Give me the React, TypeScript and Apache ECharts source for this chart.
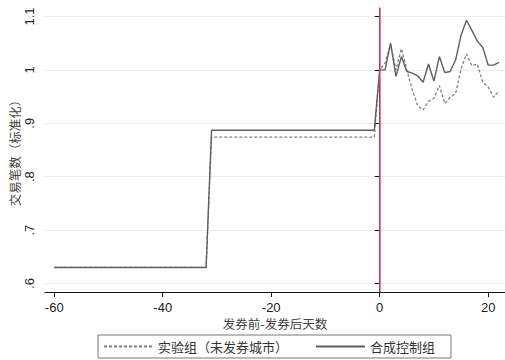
import React, { useEffect, useRef } from "react";
import * as echarts from "echarts";

const days = [-60, -32, -31, -1, 0, 1, 2, 3, 4, 5, 6, 7, 8, 9, 10, 11, 12, 13, 14, 15, 16, 17, 18, 19, 20, 21, 22];
const treated = [0.63, 0.63, 0.874, 0.874, 1.0, 1.013, 1.048, 1.0, 1.04, 1.0, 0.963, 0.933, 0.925, 0.941, 0.947, 0.971, 0.937, 0.949, 0.956, 1.002, 1.03, 1.008, 1.011, 0.977, 0.968, 0.949, 0.96];
const synthetic = [0.63, 0.63, 0.887, 0.887, 1.0, 1.0, 1.05, 0.988, 1.025, 0.997, 0.994, 0.989, 0.977, 1.011, 0.979, 1.025, 0.995, 0.997, 1.019, 1.065, 1.093, 1.074, 1.054, 1.042, 1.009, 1.009, 1.014];
const xTicks = [-60, -40, -20, 0, 20];
const yTicks = [0.6, 0.7, 0.8, 0.9, 1.0, 1.1];
const seriesNames = ["实验组（未发券城市）", "合成控制组"];
const xTitle = "发券前-发券后天数";
const yTitle = "交易笔数（标准化）";

const numFont = "'Liberation Sans', Arial, sans-serif";
const cjkFont = "'Noto Sans CJK SC', sans-serif";

function fmtY(v: number): string {
  const s = (Math.round(v * 10) / 10).toString();
  return s.startsWith("0.") ? s.slice(1) : s;
}

export default function App() {
  const ref = useRef<HTMLDivElement>(null);
  useEffect(() => {
    if (!ref.current) return;
    const chart = echarts.init(ref.current, null, { renderer: "svg" });
    chart.setOption({
      animation: false,
      backgroundColor: "#ffffff",
      grid: { left: 45, right: 0, top: 8, bottom: 68 },
      legend: {
        left: 98,
        top: 335,
        data: seriesNames,
        itemWidth: 49,
        itemHeight: 10,
        itemGap: 27,
        padding: [5, 16, 5, 5],
        borderColor: "#777",
        borderWidth: 1,
        itemStyle: { opacity: 0 },
        textStyle: { fontFamily: cjkFont, fontSize: 13, color: "#333" },
      },
      xAxis: {
        type: "value",
        min: -61.7,
        max: 23.1,
        name: xTitle,
        nameLocation: "middle",
        nameGap: 25,
        nameMoveOverlap: false,
        nameTextStyle: { fontFamily: cjkFont, fontSize: 12.5, color: "#444" },
        axisLine: { show: true, onZero: false, lineStyle: { color: "#111", width: 1 } },
        axisTick: { show: true, length: 5, customValues: xTicks, lineStyle: { color: "#111" } },
        axisLabel: { customValues: xTicks, margin: 9, fontFamily: numFont, fontSize: 13, color: "#222" },
        splitLine: { show: false },
      },
      yAxis: {
        type: "value",
        min: 0.584,
        max: 1.116,
        name: yTitle,
        nameLocation: "middle",
        nameGap: 24,
        nameMoveOverlap: false,
        nameTextStyle: { fontFamily: cjkFont, fontSize: 12.5, color: "#444" },
        axisLine: { show: true, lineStyle: { color: "#111", width: 1 } },
        axisTick: { show: true, length: 5, customValues: yTicks, lineStyle: { color: "#111" } },
        axisLabel: {
          customValues: yTicks,
          rotate: 90,
          margin: 9,
          fontFamily: numFont,
          fontSize: 13,
          color: "#222",
          formatter: (v: number) => fmtY(v),
        },
        splitLine: { show: true, lineStyle: { color: "#ececec", width: 1 } },
      },
      series: [
        {
          name: seriesNames[0],
          type: "line",
          symbol: "none",
          data: days.map((d, i) => [d, treated[i]]),
          lineStyle: { color: "#808080", width: 1.3, type: [3, 2] },
          itemStyle: { color: "#808080" },
          z: 2,
          markLine: {
            silent: true,
            symbol: "none",
            label: { show: false },
            lineStyle: { color: "#e04c80", width: 1.5, type: "solid" },
            emphasis: { disabled: true },
            data: [{ xAxis: 0 }],
          },
        },
        {
          name: seriesNames[1],
          type: "line",
          symbol: "none",
          data: days.map((d, i) => [d, synthetic[i]]),
          lineStyle: { color: "#5f5f5f", width: 1.4, type: "solid" },
          itemStyle: { color: "#5f5f5f" },
          z: 3,
        },
      ],
    });
    return () => chart.dispose();
  }, []);
  return <div ref={ref} style={{ width: 505, height: 360, position: "absolute", left: 0, top: 0 }} />;
}
